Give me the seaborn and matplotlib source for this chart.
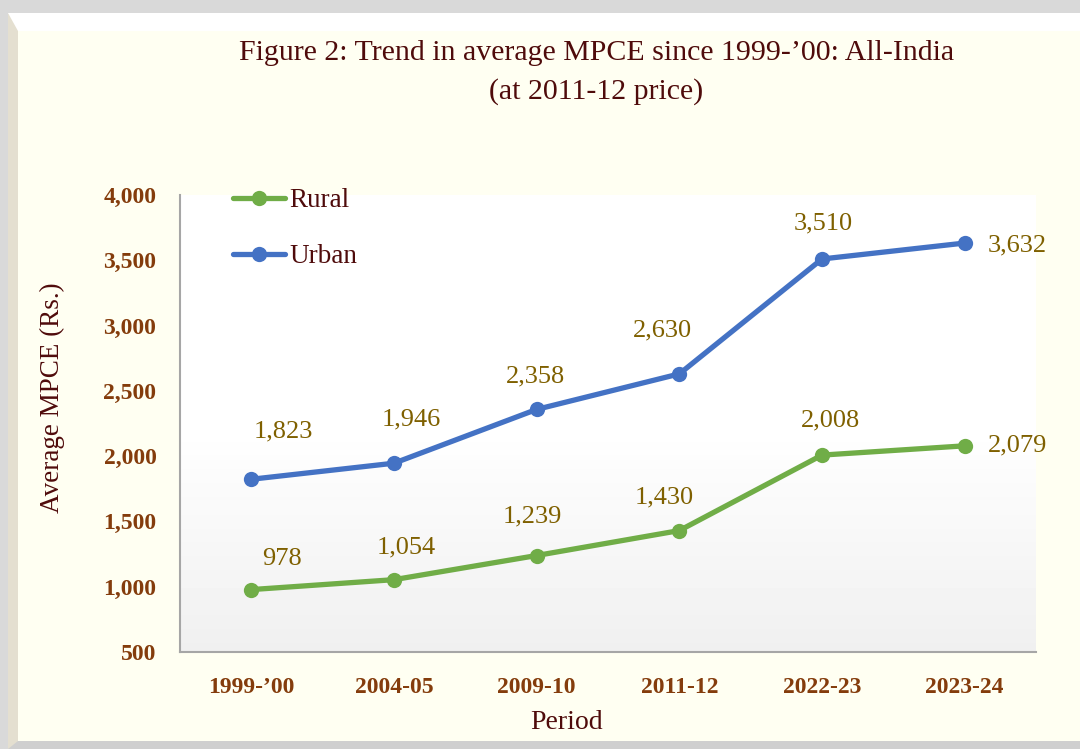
import numpy as np
import pandas as pd
import seaborn as sns
import matplotlib
matplotlib.use('Agg')
import matplotlib.pyplot as plt
from matplotlib.patches import Polygon

periods = ["1999-\u201900", "2004-05", "2009-10", "2011-12", "2022-23", "2023-24"]
rural = [978, 1054, 1239, 1430, 2008, 2079]
urban = [1823, 1946, 2358, 2630, 3510, 3632]
yticks = [500, 1000, 1500, 2000, 2500, 3000, 3500, 4000]

sns.set_style('white')
plt.rcParams['font.family'] = ['Liberation Serif', 'DejaVu Serif']

maroon = "#4F0B0B"
tick_brown = "#843C0C"
label_olive = "#7F6000"
colors = {"Rural": "#70AD47", "Urban": "#4472C4"}
cream = "#FFFFF2"

W, H = 1080, 749
fig = plt.figure(figsize=(W / 100, H / 100), dpi=100)
fig.patch.set_facecolor("#D9D9D9")


def px(x, y):
    return (x / W, 1 - y / H)


def fig_poly(points, color):
    fig.patches.append(Polygon([px(x, y) for x, y in points], closed=True,
                               transform=fig.transFigure, facecolor=color,
                               edgecolor='none', zorder=-5))


# bevelled frame
fig_poly([(8, 13), (1080, 13), (1080, 749), (8, 749)], "#E4DFD0")
fig_poly([(8, 13), (1080, 13), (1080, 31), (18, 31)], "#FFFFFF")
fig_poly([(8, 749), (18, 741), (1080, 741), (1080, 749)], "#CFCFCF")
fig_poly([(18, 31), (1080, 31), (1080, 741), (18, 741)], cream)

ax = fig.add_axes([180 / W, 1 - 652 / H, (1036 - 180) / W, (652 - 195) / H])

# gradient plot area (white on top, light grey at the bottom)
grad = np.concatenate([np.linspace(0.94, 1.0, 50), np.ones(50)])[:, None]
ax.imshow(grad, extent=[0, 1, 0, 1], transform=ax.transAxes, cmap='gray',
          vmin=0, vmax=1, aspect='auto', origin='lower', zorder=0)

df = pd.DataFrame({
    "Period": periods * 2,
    "Area": ["Rural"] * len(periods) + ["Urban"] * len(periods),
    "MPCE": rural + urban,
})

sns.lineplot(data=df, x="Period", y="MPCE", hue="Area", hue_order=["Rural", "Urban"],
             palette=colors, sort=False, marker='o', markersize=11,
             markeredgewidth=0, linewidth=3.8, ax=ax, zorder=3)

ax.set_xlim(-0.5, len(periods) - 0.5)
ax.set_ylim(500, 4000)
ax.set_yticks(yticks)
ax.set_yticklabels([f"{v:,}" for v in yticks])
ax.set_xticks(range(len(periods)))
ax.set_xticklabels(periods)
ax.tick_params(axis='both', length=0, labelsize=17, labelcolor=tick_brown)
ax.tick_params(axis='y', pad=17)
ax.tick_params(axis='x', pad=18)
for lab in ax.get_xticklabels() + ax.get_yticklabels():
    lab.set_fontweight('bold')

for side in ['top', 'right']:
    ax.spines[side].set_visible(False)
for side in ['left', 'bottom']:
    ax.spines[side].set_color("#A6A6A6")
    ax.spines[side].set_linewidth(1.5)

ax.set_xlabel("Period", fontsize=20, color=maroon)
ax.set_ylabel("Average MPCE (Rs.)", fontsize=19.5, color=maroon)
ax.xaxis.set_label_coords(0.451, -0.128)
ax.yaxis.set_label_coords(-0.134, 0.556)

# data labels
rural_off = [(31, 31), (12, 32), (-4, 39), (-15, 33), (8, 35), (53, 0)]
urban_off = [(32, 48), (17, 44), (-1, 33), (-17, 43), (1, 36), (53, -2)]
for i, v in enumerate(rural):
    ax.annotate(f"{v:,}", (i, v), xytext=rural_off[i], textcoords='offset pixels',
                ha='center', va='center', fontsize=19, color=label_olive, zorder=5)
for i, v in enumerate(urban):
    ax.annotate(f"{v:,}", (i, v), xytext=urban_off[i], textcoords='offset pixels',
                ha='center', va='center', fontsize=19, color=label_olive, zorder=5)

handles, labels = ax.get_legend_handles_labels()
leg = ax.legend(handles, labels, loc='upper left', bbox_to_anchor=(0.033, 1.068),
                frameon=False, fontsize=19.5, handlelength=1.95, handletextpad=0.15,
                labelspacing=1.15)
for t in leg.get_texts():
    t.set_color(maroon)

fig.text(0.552, 1 - 40 / H, "Figure 2: Trend in average MPCE since 1999-\u201900: All-India\n(at 2011-12 price)",
         ha='center', va='top', fontsize=21.5, color=maroon, linespacing=1.6)

fig.savefig("out.png", dpi=100, facecolor=fig.get_facecolor())
